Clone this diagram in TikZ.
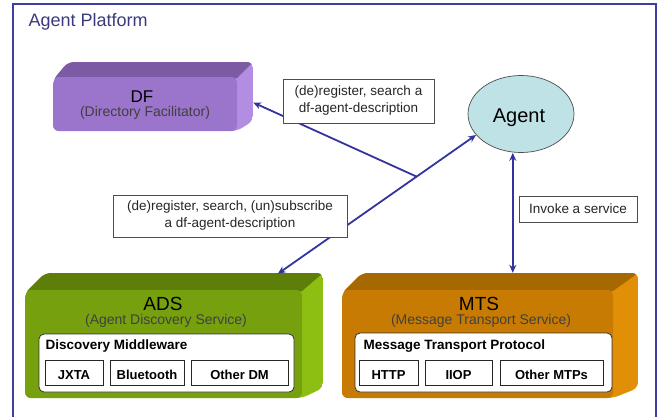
\documentclass[tikz,border=0pt]{standalone}
\usepackage{fontspec}
\setmainfont{Liberation Sans}
\usetikzlibrary{shapes.geometric,arrows.meta,calc,fit}

\definecolor{framec}{HTML}{3E3EA0}
\definecolor{titlec}{HTML}{3A3A7C}
\definecolor{arrowc}{HTML}{34349E}
\definecolor{dftop}{HTML}{7C5BA4}
\definecolor{dffront}{HTML}{9B74CC}
\definecolor{dfside}{HTML}{B28DE2}
\definecolor{adstop}{HTML}{5E7E0A}
\definecolor{adsfront}{HTML}{76A00E}
\definecolor{adsside}{HTML}{8CBF12}
\definecolor{mtstop}{HTML}{A66800}
\definecolor{mtsfront}{HTML}{C87B02}
\definecolor{mtsside}{HTML}{E08F06}
\definecolor{agentc}{HTML}{BFE2E6}

% 3-D block: #1 front left x, #2 back top y, #3 front right x, #4 front top y,
% #5 bottom y, #6 back right x, #7 depth-x, #8 colour prefix
\newcommand\solidblock[8]{%
  \begin{scope}
    \path[clip, rounded corners=6pt] (#1,#4+2) -- (#1+#7,#2) -- (#6,#2) -- (#6,#5-10)
      -- (#3,#5) -- (#1,#5) -- cycle;
    \fill[#8side] (#1,#2) rectangle (#6,#5);
    \fill[#8top] (#1,#4) -- (#1+#7,#2) -- (#6,#2) -- (#3,#4) -- cycle;
    \fill[#8front, rounded corners=5pt] (#1,#4-1) rectangle (#3,#5);
  \end{scope}}

\tikzset{
  conn/.style={draw=arrowc, line width=1.8pt,
    arrows={Stealth[length=8pt,width=7pt]-Stealth[length=8pt,width=7pt]}},
  onearrow/.style={draw=arrowc, line width=1.8pt, -{Stealth[length=8pt,width=7pt]}},
  labelbox/.style={draw=black!70, fill=white, line width=0.6pt, align=center,
    inner sep=0pt, font=\fontsize{13.5}{17}\selectfont, text=black!85},
  innerbox/.style={draw=black!80, fill=white, line width=0.8pt, rounded corners=5pt},
  subbox/.style={draw=black!85, fill=white, line width=0.9pt},
  subtext/.style={font=\fontsize{13}{15}\bfseries\selectfont, anchor=base},
  innertitle/.style={font=\fontsize{13.5}{15}\bfseries\selectfont, anchor=base west},
  bigname/.style={font=\fontsize{19}{21}\selectfont, anchor=base},
  subname/.style={font=\fontsize{14}{16}\selectfont, anchor=base, text=black!75},
  hull/.style={inner sep=0pt, draw=none},
}

\begin{document}
\begin{tikzpicture}[x=1pt,y=-1pt]
\useasboundingbox (0,0) rectangle (663,416);
\clip (0,0) rectangle (663,416);

% platform frame (its bottom edge lies below the page)
\draw[framec, line width=2pt] (13,4) rectangle (656,430);
\node[anchor=base west, text=titlec, font=\fontsize{18}{20}\selectfont]
  (title) at (25,26) {Agent Platform};

% ---- DF block ----
\solidblock{53}{62}{237}{78}{131}{253}{15}{df}
\node[hull, fit={(53,62) (253,131)}] (df) {};
\node[bigname, font=\fontsize{17}{19}\selectfont] (dfname) at (142,102) {DF};
\node[subname] (dfsub) at (145,116) {(Directory Facilitator)};

% ---- ADS block ----
\solidblock{25}{273}{302}{291}{398}{323}{20}{ads}
\node[hull, fit={(25,273) (323,398)}] (ads) {};
\node[bigname] (adsname) at (163,310) {ADS};
\node[subname] (adssub) at (166,324) {(Agent Discovery Service)};
\draw[innerbox] (39,334) rectangle (294,392);
\node[innertitle] (dmtitle) at (42,349) {Discovery Middleware};
\node[subbox, fit={(45,360) (103,385)}, inner sep=0pt] (jxta) {};
\node[subbox, fit={(110,360) (184,385)}, inner sep=0pt] (bt) {};
\node[subbox, fit={(191,360) (288,385)}, inner sep=0pt] (odm) {};
\node[subtext] at (74,379) {JXTA};
\node[subtext] at (147,379) {Bluetooth};
\node[subtext] at (239.5,379) {Other DM};

% ---- MTS block ----
\solidblock{342}{273}{613}{291}{398}{638}{20}{mts}
\node[hull, fit={(342,273) (638,398)}] (mts) {};
\node[bigname] (mtsname) at (479,310) {MTS};
\node[subname] (mtssub) at (481,324) {(Message Transport Service)};
\draw[innerbox] (355,333) rectangle (612,392);
\node[innertitle] (mtptitle) at (360,349) {Message Transport Protocol};
\node[subbox, fit={(359,360) (418,385)}, inner sep=0pt] (http) {};
\node[subbox, fit={(425,360) (492,385)}, inner sep=0pt] (iiop) {};
\node[subbox, fit={(500,360) (603,385)}, inner sep=0pt] (omtp) {};
\node[subtext] at (388.5,379) {HTTP};
\node[subtext] at (458.5,379) {IIOP};
\node[subtext] at (551.5,379) {Other MTPs};

% ---- Agent ----
\node[ellipse, draw=black!70, line width=0.7pt, fill=agentc, minimum width=106pt,
  minimum height=77pt, inner sep=0pt] (agent) at (521,114) {};
\node[anchor=base, font=\fontsize{20}{22}\selectfont] (agentname) at (519,122) {Agent};

% ---- connector ends ----
\coordinate (adsport) at ($(ads.north west)+(253,1)$);
\coordinate (agentport) at (agent.205);
\coordinate (mtsport) at ($(mts.north west)+(171,0)$);
\coordinate (dfport) at ($(df.east)+(0,6)$);
\coordinate (split) at ($(adsport)!0.70!(agentport)$);

% ---- connectors ----
\draw[conn] (adsport) -- (agentport);
\draw[onearrow] (split) -- (dfport);
\draw[conn] (agent.south -| mtsport) -- (mtsport);

% ---- labels ----
\node[labelbox, minimum width=151pt, minimum height=44pt] (lab1) at (358.5,101)
  {(de)register, search a\\df-agent-description};
\node[labelbox, minimum width=234pt, minimum height=42pt] (lab2) at (230,216)
  {(de)register, search, (un)subscribe\\a df-agent-description};
\node[labelbox, minimum width=118pt, minimum height=26pt] (lab3) at (578,209)
  {Invoke a service};
\end{tikzpicture}
\end{document}
